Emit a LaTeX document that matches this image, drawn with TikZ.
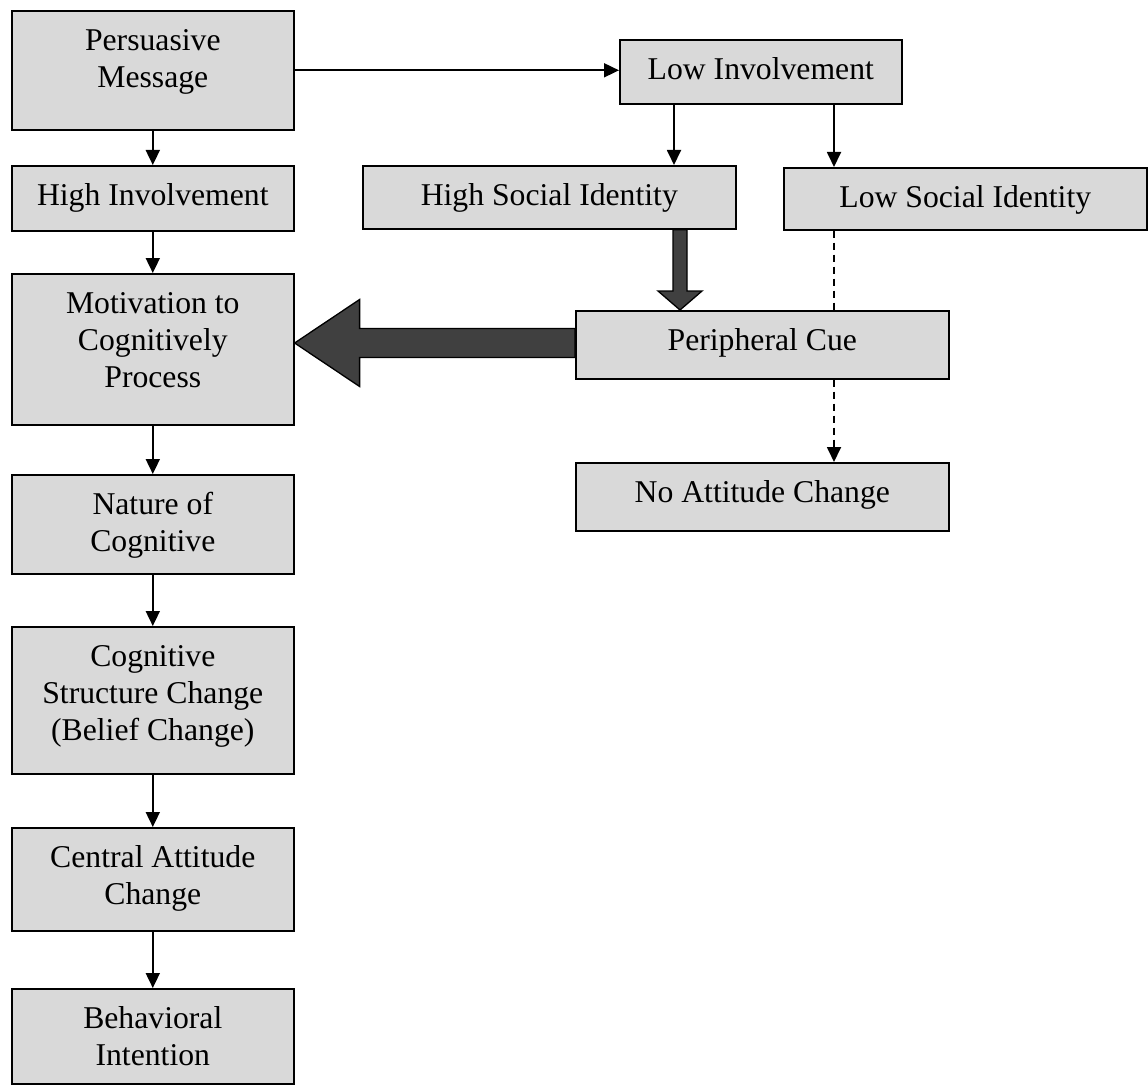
\documentclass[tikz,border=0pt]{standalone}
\usepackage{fontspec}
\setmainfont{Liberation Serif}
\usetikzlibrary{arrows.meta,calc}
\definecolor{boxgray}{RGB}{217,217,217}
\definecolor{darkarrow}{RGB}{64,64,64}
\newcommand\mybox[3]{\parbox[c][#2][t]{#1}{\centering\rule{0pt}{40pt}#3}}
\begin{document}
\begin{tikzpicture}[x=1pt,y=-1pt,
  font=\fontsize{31.7pt}{37pt}\selectfont,
  box/.style={draw, line width=1.6pt, fill=boxgray, inner sep=0pt, anchor=north west},
  arr/.style={line width=1.8pt, -{Triangle[width=14pt,length=15pt]}},
  dsh/.style={line width=1.8pt, dash pattern=on 7pt off 5pt},
  fatarrow/.style={fill=darkarrow, draw=black, line width=1.3pt, line join=miter}]
\fill[white] (0,0) rectangle (1148,1086);
\useasboundingbox (0,0) rectangle (1148,1086);

% left column
\node[box] (pm)  at (11,10)  {\mybox{282pt}{119pt}{Persuasive\\Message}};
\node[box] (hi)  at (11,165) {\mybox{282pt}{65pt}{High Involvement}};
\node[box] (mot) at (11,273) {\mybox{282pt}{151pt}{Motivation to\\Cognitively\\Process}};
\node[box] (nat) at (11,474) {\mybox{282pt}{99pt}{Nature of\\Cognitive}};
\node[box] (cog) at (11,626) {\mybox{282pt}{147pt}{Cognitive\\Structure Change\\(Belief Change)}};
\node[box] (cen) at (11,827) {\mybox{282pt}{103pt}{Central Attitude\\Change}};
\node[box] (beh) at (11,988) {\mybox{282pt}{95pt}{Behavioral\\Intention}};

% right part
\node[box] (li)  at (619,39)  {\mybox{282pt}{64pt}{Low Involvement}};
\node[box] (hsi) at (362,165) {\mybox{373pt}{63pt}{High Social Identity}};
\node[box] (lsi) at (783,167) {\mybox{363pt}{62pt}{Low Social Identity}};
\node[box] (pc)  at (575,310) {\mybox{373pt}{68pt}{Peripheral Cue}};
\node[box] (nac) at (575,462) {\mybox{373pt}{68pt}{No Attitude Change}};

% left column arrows
\draw[arr] (pm) -- (hi);
\draw[arr] (hi) -- (mot);
\draw[arr] (mot) -- (nat);
\draw[arr] (nat) -- (cog);
\draw[arr] (cog) -- (cen);
\draw[arr] (cen) -- (beh);

% to low involvement
\draw[arr] (pm.east) -- (pm.east -| li.west);

% low involvement to social identity boxes
\draw[arr] (li.south -| 674,0) -- (hsi.north -| 674,0);
\draw[arr] (li.south -| 834,0) -- (lsi.north -| 834,0);

% dashed
\draw[dsh] (lsi.south -| 834,0) -- (pc.north -| 834,0);
\draw[dsh, -{Triangle[width=14pt,length=15pt]}] (pc.south -| 834,0) -- (nac.north -| 834,0);

% thick arrow high social identity -> peripheral cue
\coordinate (t1) at (hsi.south -| 680,0);
\coordinate (t2) at (pc.north -| 680,0);
\draw[fatarrow] ($(t1)+(-7,0)$) -- ($(t2)+(-7,-19)$) -- ($(t2)+(-22,-19)$) -- (t2)
  -- ($(t2)+(22,-19)$) -- ($(t2)+(7,-19)$) -- ($(t1)+(7,0)$) -- cycle;

% big arrow peripheral cue -> motivation
\coordinate (b1) at (pc.west |- 0,343);
\coordinate (b2) at (mot.east |- 0,343);
\draw[fatarrow] ($(b1)+(0,-14.5)$) -- ($(b2)+(65,-14.5)$) -- ($(b2)+(65,-43.5)$) -- (b2)
  -- ($(b2)+(65,43.5)$) -- ($(b2)+(65,14.5)$) -- ($(b1)+(0,14.5)$) -- cycle;
\end{tikzpicture}
\end{document}
